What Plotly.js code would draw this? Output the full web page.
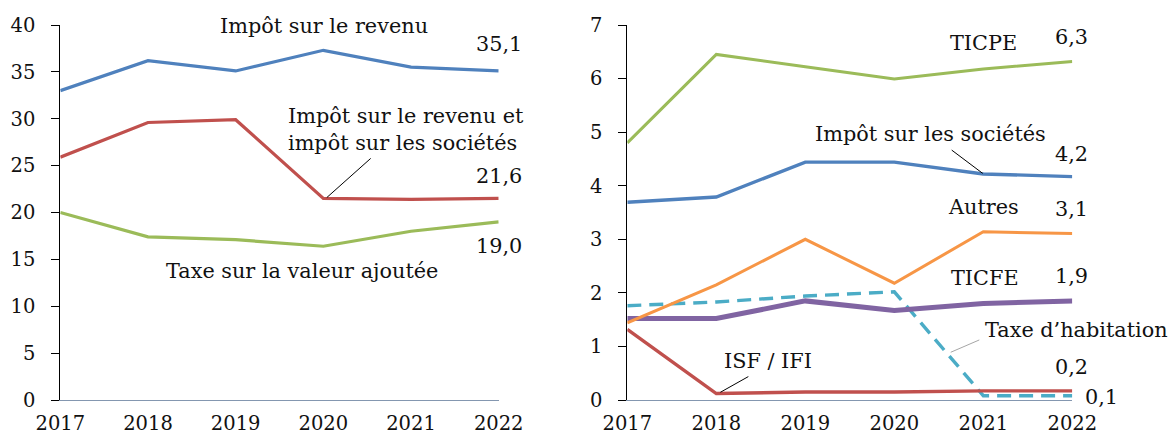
<!DOCTYPE html>
<html>
<head>
<meta charset="utf-8">
<script src="https://cdn.plot.ly/plotly-3.0.1.min.js"></script>
<style>
  html, body { margin: 0; padding: 0; background: #fff; }
  #chart { width: 1174px; height: 434px; }
</style>
</head>
<body>
<div id="chart"></div>
<script>
// ---- Data ----
const years = [2017, 2018, 2019, 2020, 2021, 2022];

// Left panel
const impotRevenu = [33.0, 36.2, 35.1, 37.3, 35.5, 35.1];
const impotRevenuEtSocietes = [25.9, 29.6, 29.9, 21.5, 21.4, 21.5];
const tva = [20.0, 17.4, 17.1, 16.4, 18.0, 19.0];

// Right panel
const ticpe = [4.80, 6.45, 6.22, 5.99, 6.18, 6.32];
const impotSocietes = [3.69, 3.79, 4.44, 4.44, 4.22, 4.17];
const autres = [1.44, 2.15, 3.00, 2.18, 3.14, 3.11];
const taxeHabitation = [1.76, 1.83, 1.94, 2.02, 0.08, 0.08];
const ticfe = [1.52, 1.52, 1.85, 1.67, 1.80, 1.85];
const isfIfi = [1.32, 0.12, 0.15, 0.15, 0.17, 0.17];

// Tick labels
const leftTicks = [0, 5, 10, 15, 20, 25, 30, 35, 40];
const rightTicks = [0, 1, 2, 3, 4, 5, 6, 7];
const yearLabels = ['2017', '2018', '2019', '2020', '2021', '2022'];

// Text labels
const leftNames = ['Impôt sur le revenu', 'Impôt sur le revenu et<br>impôt sur les sociétés', 'Taxe sur la valeur ajoutée'];
const leftValues = ['35,1', '21,6', '19,0'];
const rightNames = ['TICPE', 'Impôt sur les sociétés', 'Autres', 'TICFE', 'Taxe d’habitation', 'ISF / IFI'];
const rightValues = ['6,3', '4,2', '3,1', '1,9', '0,2', '0,1'];

// ---- Styling ----
const FONT = 'DejaVu Serif, serif';
const TXT = '#111111';
const W = 1174;
const C = {
  blue: '#4F81BD', red: '#C0504D', green: '#9BBB59',
  purple: '#8064A2', teal: '#4BACC6', orange: '#F79646'
};

function line(y, color, width, xa, ya, dash) {
  return {
    x: years, y: y, type: 'scatter', mode: 'lines',
    line: { color: color, width: width, dash: dash || 'solid' },
    xaxis: xa, yaxis: ya, hoverinfo: 'skip', showlegend: false
  };
}

const traces = [
  line(impotRevenu, C.blue, 3.2, 'x', 'y'),
  line(impotRevenuEtSocietes, C.red, 3.2, 'x', 'y'),
  line(tva, C.green, 3.2, 'x', 'y'),
  line(taxeHabitation, C.teal, 3.4, 'x2', 'y2', '14px,8px'),
  line(ticfe, C.purple, 5, 'x2', 'y2'),
  line(autres, C.orange, 3, 'x2', 'y2'),
  line(isfIfi, C.red, 3.4, 'x2', 'y2'),
  line(impotSocietes, C.blue, 3.4, 'x2', 'y2'),
  line(ticpe, C.green, 3, 'x2', 'y2')
];

function xaxisCfg(domain, anchor) {
  return {
    domain: domain, anchor: anchor, range: [2017, 2022],
    tickmode: 'array', tickvals: years, ticktext: yearLabels,
    showgrid: false, zeroline: false, showline: true,
    linecolor: '#8497B0', linewidth: 1, ticks: '',
    ticklabelstandoff: 6,
    tickfont: { family: FONT, size: 19.5, color: TXT }
  };
}
function yaxisCfg(range, ticks, anchor) {
  return {
    range: range, anchor: anchor, domain: [0, 1],
    tickmode: 'array', tickvals: ticks, ticktext: ticks.map(String),
    showgrid: false, zeroline: false, showline: true,
    linecolor: '#000000', linewidth: 1,
    ticks: 'outside', ticklen: 8, tickcolor: '#000000', tickwidth: 1,
    ticklabelstandoff: 12,
    tickfont: { family: FONT, size: 19.5, color: TXT }
  };
}

function ann(text, x, y, xref, yref, xanchor) {
  return {
    text: text, x: x, y: y, xref: xref, yref: yref,
    xanchor: xanchor || 'center', yanchor: 'middle', align: 'left',
    showarrow: false, font: { family: FONT, size: 20.8, color: TXT }
  };
}

const annotations = [
  ann(leftNames[0], 2020.01, 39.9, 'x', 'y'),
  ann(leftValues[0], 2022, 37.95, 'x', 'y'),
  ann(leftNames[1], 2019.574, 28.9, 'x', 'y', 'left'),
  ann(leftValues[1], 2022, 23.93, 'x', 'y'),
  ann(leftValues[2], 2022, 16.39, 'x', 'y'),
  ann(leftNames[2], 2019.76, 13.81, 'x', 'y'),

  ann(rightNames[0], 2021.0, 6.66, 'x2', 'y2'),
  ann(rightValues[0], 2021.99, 6.78, 'x2', 'y2'),
  ann(rightNames[1], 2020.41, 4.97, 'x2', 'y2'),
  ann(rightValues[1], 2021.99, 4.60, 'x2', 'y2'),
  ann(rightNames[2], 2021.0, 3.61, 'x2', 'y2'),
  ann(rightValues[2], 2021.99, 3.57, 'x2', 'y2'),
  ann(rightNames[3], 2021.02, 2.28, 'x2', 'y2'),
  ann(rightValues[3], 2021.99, 2.31, 'x2', 'y2'),
  // these two sit right of the plotting area, so they are placed in paper x
  ann(rightNames[4], 1076.3 / W, 1.31, 'paper', 'y2'),
  ann(rightValues[4], 2021.99, 0.62, 'x2', 'y2'),
  ann(rightValues[5], 1101.7 / W, 0.065, 'paper', 'y2'),
  ann(rightNames[5], 2018.58, 0.72, 'x2', 'y2')
];

function leader(x0, y0, x1, y1, xref, yref, color) {
  return {
    type: 'line', xref: xref, yref: yref,
    x0: x0, y0: y0, x1: x1, y1: y1,
    line: { color: color, width: 1 }
  };
}

const shapes = [
  leader(2020.54, 25.77, 2020.04, 21.6, 'x', 'y', '#000000'),
  leader(2020.645, 4.665, 2020.993, 4.23, 'x2', 'y2', '#000000'),
  leader(2020.955, 1.121, 2020.634, 0.891, 'x2', 'y2', '#A6A6A6'),
  leader(2018.36, 0.437, 2018.046, 0.144, 'x2', 'y2', '#000000')
];

const layout = {
  width: 1174, height: 434,
  margin: { l: 0, r: 0, t: 25, b: 34.3, pad: 0 },
  paper_bgcolor: '#ffffff', plot_bgcolor: '#ffffff',
  showlegend: false,
  xaxis: xaxisCfg([60.3 / W, 498.7 / W], 'y'),
  yaxis: yaxisCfg([0, 40], leftTicks, 'x'),
  xaxis2: xaxisCfg([627.3 / W, 1072.3 / W], 'y2'),
  yaxis2: yaxisCfg([0, 7], rightTicks, 'x2'),
  annotations: annotations,
  shapes: shapes
};

Plotly.newPlot('chart', traces, layout, { staticPlot: true, displayModeBar: false });
</script>
</body>
</html>
